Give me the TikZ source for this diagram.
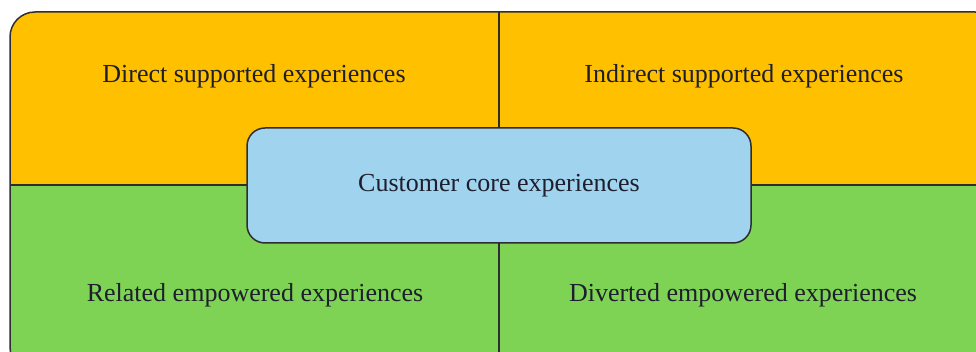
\documentclass[tikz,border=0pt]{standalone}
\usepackage{fontspec}
\setmainfont{Liberation Serif}
\usetikzlibrary{positioning,calc}
\definecolor{supported}{RGB}{255,192,0}
\definecolor{empowered}{RGB}{126,211,84}
\definecolor{corefill}{RGB}{160,211,238}
\definecolor{edge}{RGB}{45,45,50}
\definecolor{ink}{RGB}{30,30,45}

\begin{document}
\begin{tikzpicture}[x=1pt, y=1pt]
    \tikzset{label/.style={font=\fontsize{26}{30}\selectfont, text=ink}}
    \tikzset{corebox/.style={rectangle, draw=edge, line width=1.5pt, fill=corefill, rounded corners=18pt, minimum width=504pt, minimum height=115pt, label}}
    \tikzset{divider/.style={draw=edge, line width=1.2pt}}

    \useasboundingbox (0,0) rectangle (976,352);
    \clip (0,0) rectangle (976,352);

    % Panel
    \coordinate (nw) at (10,340);
    \coordinate (se) at (1000,-20);
    \coordinate (mid) at (499,167);
    \begin{scope}
        \clip[rounded corners=25pt] (nw) rectangle (se);
        \fill[supported] (nw) rectangle (se |- mid);
        \fill[empowered] (nw |- mid) rectangle (se);
        \draw[divider] (nw |- mid) -- (se |- mid);
        \draw[divider] (mid |- nw) -- (mid |- se);
    \end{scope}
    \draw[edge, line width=1.5pt, rounded corners=25pt] (nw) rectangle (se);

    % Quadrant labels
    \node[label] (direct) at (254,276) {Direct supported experiences};
    \node[label] (indirect) at (744,276) {Indirect supported experiences};
    \node[label] (related) at (255,57) {Related empowered experiences};
    \node[label] (diverted) at (743,57) {Diverted empowered experiences};

    % Core
    \node[corebox] (core) at (499,166.5) {Customer core experiences};
\end{tikzpicture}
\end{document}
